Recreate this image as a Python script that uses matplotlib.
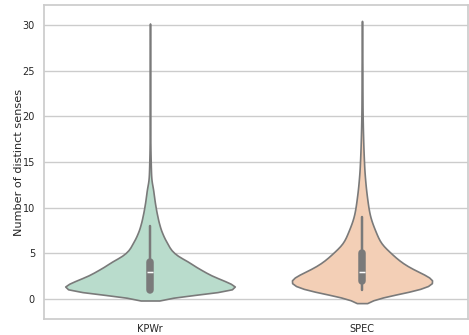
import numpy as np
import pandas as pd
import matplotlib
matplotlib.use("Agg")
import matplotlib.pyplot as plt
import seaborn as sns

# number of distinct senses -> number of words
kpwr_values = list(range(1, 30))
kpwr_counts = [855, 615, 450, 336, 192, 150, 108, 81, 63, 48, 36, 27,
               11, 8, 6, 4, 3, 2, 1, 1, 0, 1, 0, 0, 1, 0, 0, 0, 1]
spec_values = list(range(1, 30))
spec_counts = [850, 1000, 680, 480, 370, 230, 190, 140, 100, 80, 65, 50,
               40, 30, 25, 20, 16, 13, 10, 8, 6, 6, 5, 5, 5, 4, 4, 3, 3]
categories = ["KPWr", "SPEC"]

df = pd.DataFrame({
    "corpus": ["KPWr"] * sum(kpwr_counts) + ["SPEC"] * sum(spec_counts),
    "senses": np.concatenate([np.repeat(kpwr_values, kpwr_counts),
                              np.repeat(spec_values, spec_counts)]),
})

sns.set_theme(style="whitegrid")
plt.rcParams['font.family'] = ['DejaVu Sans']

fig = plt.figure(figsize=(4.69, 3.35), dpi=100)
ax = fig.add_axes([44 / 469, 16 / 335, 424 / 469, 314 / 335])
sns.violinplot(data=df, x="corpus", y="senses", hue="corpus", order=categories,
               palette="Pastel2", legend=False, ax=ax, linewidth=1.2,
               common_norm=True)
ax.set_xlabel("")
ax.set_ylabel("Number of distinct senses", fontsize=8.1, labelpad=-1)
ax.set_yticks([0, 5, 10, 15, 20, 25, 30])
ax.tick_params(axis="y", labelsize=7, length=0, pad=6.5)
ax.tick_params(axis="x", labelsize=7, length=0, pad=3.5)
ax.set_ylim(-2.2, 32.2)
fig.savefig("out.png", dpi=100)
